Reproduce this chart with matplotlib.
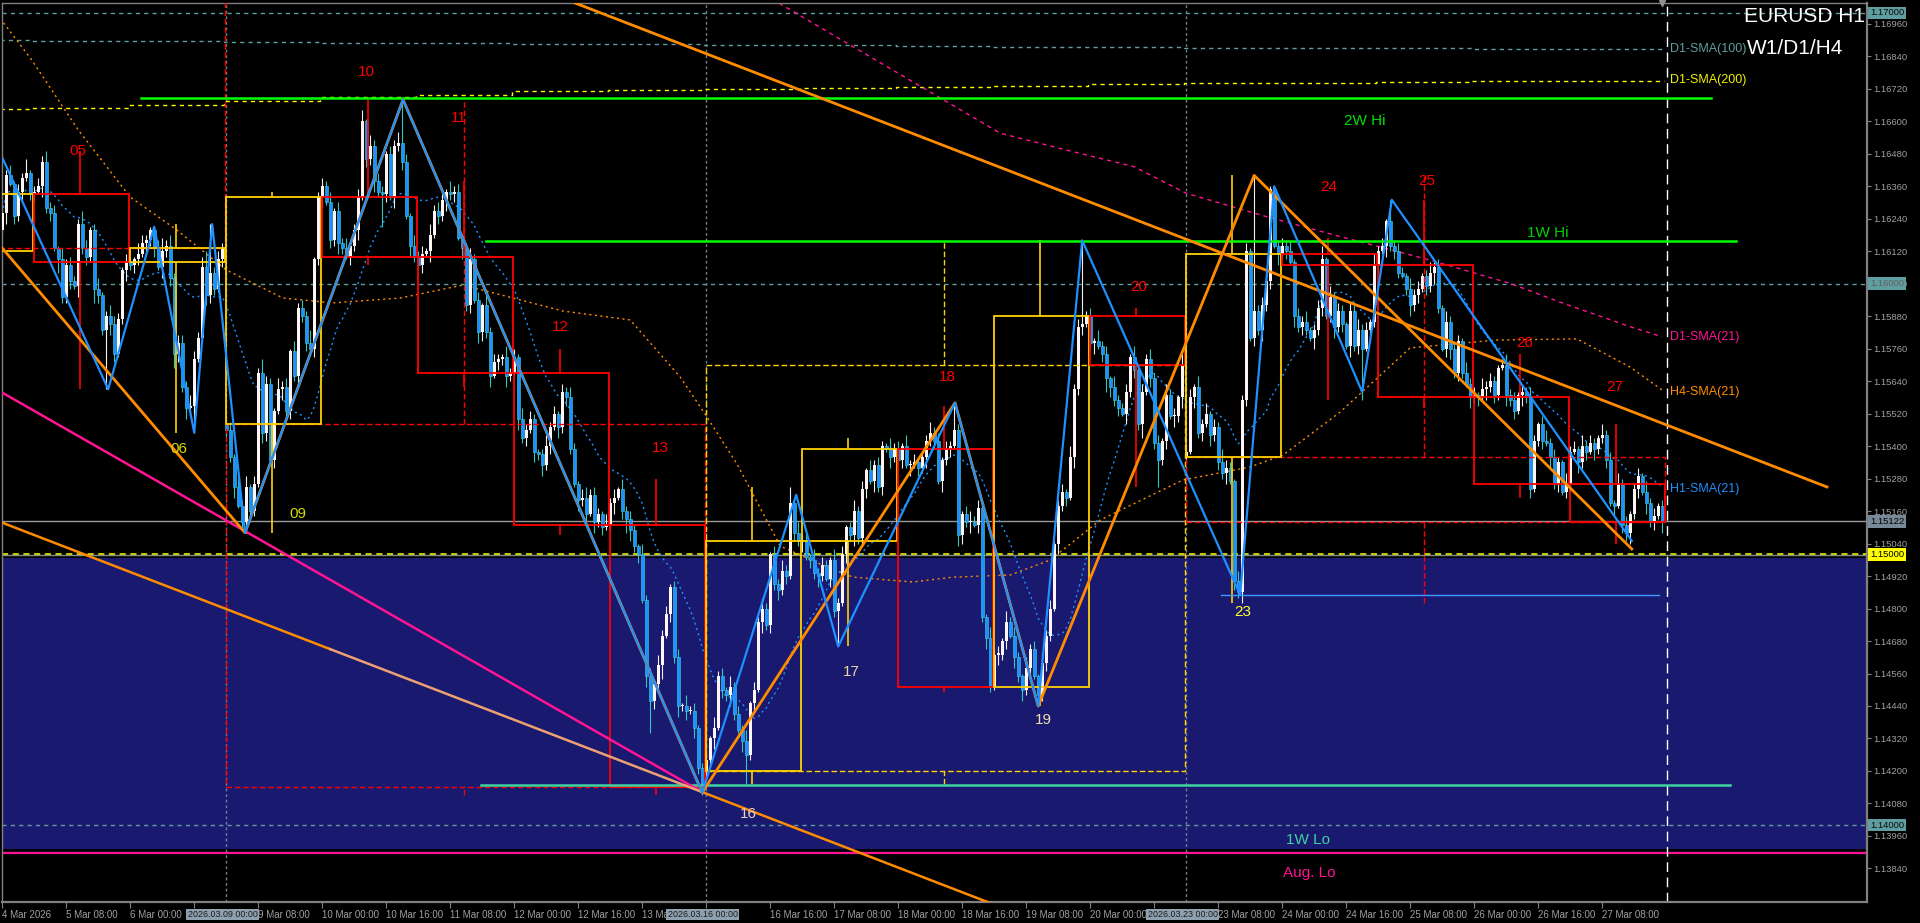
import numpy as np
import matplotlib
matplotlib.use("Agg")
import matplotlib.pyplot as plt
from matplotlib.patches import Rectangle
from matplotlib.transforms import blended_transform_factory

plt.rcParams['font.family'] = ['Liberation Sans', 'DejaVu Sans']

# ---------------- data ----------------
trading_days = [4, 5, 6, 9, 10, 11, 12, 13, 16, 17, 18, 19, 20, 23, 24, 25, 26, 27]
first_hour = 16  # chart starts 4 Mar 16:00 (H1 bars)

close_w1 = [1.1626, 1.1640, 1.1637, 1.1625, 1.1634, 1.1639, 1.1641, 1.1633,
            1.1634, 1.1636, 1.1645, 1.1628, 1.1626, 1.1613, 1.1609, 1.1595,
            1.1607, 1.1601, 1.1599, 1.1622, 1.1613, 1.1610, 1.1620, 1.1598,
            1.1596, 1.1583, 1.1588, 1.1585, 1.1574, 1.1587, 1.1605, 1.1608,
            1.1607, 1.1609, 1.1611, 1.1615, 1.1616, 1.1620, 1.1613, 1.1606,
            1.1612, 1.1614, 1.1602, 1.1574, 1.1578, 1.1562, 1.1554, 1.1555,
            1.1572, 1.1580, 1.1606, 1.1596, 1.1604, 1.1598, 1.1609, 1.1613]
close_w2 = [1.1546, 1.1536, 1.1525, 1.1518, 1.1512, 1.1525, 1.1516, 1.1526,
            1.1567, 1.1545, 1.1563, 1.1535, 1.1553, 1.1561, 1.1562, 1.1553,
            1.1575, 1.1566, 1.1591, 1.1588, 1.1578, 1.1576, 1.1609, 1.1632,
            1.1636, 1.1630, 1.1616, 1.1627, 1.1615, 1.1613, 1.1610, 1.1614,
            1.1620, 1.1632, 1.1660, 1.1646, 1.1651, 1.1638, 1.1634, 1.1633,
            1.1648, 1.1632, 1.1651, 1.1652, 1.1645, 1.1625, 1.1614, 1.1610,
            1.1607, 1.1611, 1.1612, 1.1618, 1.1627, 1.1625, 1.1631, 1.1634,
            1.1633, 1.1634, 1.1617, 1.1613, 1.1592, 1.1609, 1.1594, 1.1582,
            1.1592, 1.1582, 1.1566, 1.1571, 1.1572, 1.1573, 1.1566, 1.1567,
            1.1573, 1.1550, 1.1543, 1.1546, 1.1550, 1.1538, 1.1537, 1.1533,
            1.1540, 1.1547, 1.1552, 1.1547, 1.1560, 1.1558, 1.1539, 1.1526,
            1.1520, 1.1521, 1.1515, 1.1522, 1.1512, 1.1515, 1.1510, 1.1511,
            1.1519, 1.1521, 1.1524, 1.1516, 1.1513, 1.1509, 1.1503, 1.1500,
            1.1483, 1.1455, 1.1446, 1.1452, 1.1459, 1.1470, 1.1478, 1.1488,
            1.1462, 1.1444, 1.1444, 1.1442, 1.1442, 1.1436, 1.1421, 1.1414]
close_w3 = [1.1424, 1.1432, 1.1436, 1.1455, 1.1450, 1.1448, 1.1451, 1.1441,
            1.1435, 1.1431, 1.1426, 1.1445, 1.1450, 1.1475, 1.1480, 1.1474,
            1.1500, 1.1489, 1.1487, 1.1494, 1.1492, 1.1519, 1.1508, 1.1505,
            1.1505, 1.1499, 1.1498, 1.1493, 1.1492, 1.1496, 1.1491, 1.1498,
            1.1479, 1.1482, 1.1500, 1.1510, 1.1507, 1.1516, 1.1506, 1.1524,
            1.1531, 1.1527, 1.1533, 1.1525, 1.1540, 1.1539, 1.1536, 1.1539,
            1.1535, 1.1540, 1.1533, 1.1533, 1.1534, 1.1532, 1.1536, 1.1542,
            1.1545, 1.1542, 1.1527, 1.1535, 1.1539, 1.1540, 1.1546, 1.1507,
            1.1515, 1.1512, 1.1512, 1.1511, 1.1517, 1.1477, 1.1469, 1.1451,
            1.1463, 1.1463, 1.1468, 1.1475, 1.1470, 1.1462, 1.1455, 1.1450,
            1.1458, 1.1465, 1.1455, 1.1448, 1.1460, 1.1470, 1.1480, 1.1504,
            1.1518, 1.1523, 1.1521, 1.1536, 1.1561, 1.1584, 1.1585, 1.1588,
            1.1578, 1.1579, 1.1577, 1.1574, 1.1565, 1.1562, 1.1557, 1.1554,
            1.1552, 1.1560, 1.1573, 1.1568, 1.1548, 1.1560, 1.1572, 1.1565,
            1.1541, 1.1535, 1.1542, 1.1559, 1.1551, 1.1551, 1.1558, 1.1570]
close_w4 = [1.1538, 1.1558, 1.1562, 1.1545, 1.1548, 1.1552, 1.1544, 1.1547,
            1.1534, 1.1530, 1.1532, 1.1527, 1.1490, 1.1486, 1.1557, 1.1612,
            1.1580, 1.1590, 1.1583, 1.1592, 1.1601, 1.1635, 1.1614, 1.1611,
            1.1614, 1.1612, 1.1608, 1.1588, 1.1584, 1.1586, 1.1583, 1.1580,
            1.1583, 1.1591, 1.1609, 1.1588, 1.1595, 1.1584, 1.1590, 1.1585,
            1.1577, 1.1590, 1.1577, 1.1583, 1.1576, 1.1583, 1.1586, 1.1607,
            1.1612, 1.1614, 1.1623, 1.1614, 1.1612, 1.1604, 1.1603, 1.1598,
            1.1592, 1.1596, 1.1598, 1.1603, 1.1599, 1.1604, 1.1606, 1.1591,
            1.1576, 1.1586, 1.1576, 1.1567, 1.1579, 1.1567, 1.1563, 1.1558,
            1.1559, 1.1558, 1.1561, 1.1562, 1.1564, 1.1559, 1.1569, 1.1570,
            1.1559, 1.1557, 1.1553, 1.1559, 1.1560, 1.1558, 1.1524, 1.1542,
            1.1548, 1.1542, 1.1541, 1.1536, 1.1526, 1.1534, 1.1523, 1.1526,
            1.1538, 1.1539, 1.1534, 1.1540, 1.1538, 1.1541, 1.1539, 1.1543,
            1.1544, 1.1535, 1.1519, 1.1518, 1.1526, 1.1511, 1.1508, 1.1515,
            1.1524, 1.1529, 1.1523, 1.1519, 1.1512, 1.1514, 1.1518, 1.1512]

# wick lengths in pips (estimated), one digit per bar
wick_hi_w1 = ("32413251" "23242314" "23225312" "41243213" "21432123" "52423324" "32463232")
wick_lo_w1 = ("24132412" "31423152" "23142325" "32143124" "23214231" "42353242" "31243213")
wick_hi_w2 = ("23142413" "25321423" "14232512" "32413241" "23514232" "13242314" "23142321" "42312423"
              "14232142" "31423212" "42313242" "13423214" "23142321" "42314231" "23142312")
wick_lo_w2 = ("32413242" "14323142" "32423132" "41324213" "24132423" "31423142" "23141324" "23142314"
              "32413242" "14231424" "23142321" "42314231" "24135423" "14232513" "24231424")
wick_hi_w3 = ("21423142" "32413242" "13242314" "23142321" "42312423" "14232142" "31423212" "42313242"
              "13423214" "23142321" "42314231" "23142312" "31423142" "23141324" "23142314")
wick_lo_w3 = ("32413242" "14323142" "32423132" "41324213" "24132423" "31423142" "23141324" "23142314"
              "32413242" "14231424" "23142321" "42314231" "24135423" "14232513" "24231424")
wick_hi_w4 = ("23142413" "25321423" "14232512" "32413241" "23514232" "13242314" "23142321" "42312423"
              "14232142" "31423212" "42313242" "13423214" "23142321" "42314231" "23142312")
wick_lo_w4 = ("21423142" "32413242" "13242314" "23142321" "42312423" "14232142" "31423212" "42313242"
              "13423214" "23142321" "42314231" "23142312" "31423142" "23141324" "23142314")

gap_opens = {0: 1.1620, 56: 1.1548, 176: 1.1420, 296: 1.1536}
high_marks = {10: 1.1647, 38: 1.1621, 52: 1.1622, 90: 1.1664, 100: 1.1668, 197: 1.1525,
              238: 1.1555, 270: 1.1616, 313: 1.1640, 317: 1.1636, 347: 1.1631}
low_marks = {26: 1.1561, 48: 1.1545, 61: 1.1508, 95: 1.1621, 162: 1.1434, 175: 1.1411,
             186: 1.1415, 209: 1.1466, 259: 1.1444, 289: 1.1525, 309: 1.1484, 340: 1.1557,
             406: 1.1505}
mar4_open = 1.1612
week1_open = 1.1720

# zigzags (bar index, price)
blue_zz_i = [0.2, 26.5, 38, 48, 52.5, 60.7, 100.2, 175, 198.5, 209, 238.2, 259, 270, 309.5, 318, 340, 347.4, 407.4]
blue_zz_p = [1.1646, 1.1561, 1.1621, 1.1545, 1.1622, 1.1508, 1.1668, 1.1412, 1.1522, 1.1466, 1.1556,
             1.1444, 1.1616, 1.1485, 1.1636, 1.1560, 1.1631, 1.1505]
orange_zz_i = [-0.5, 60.7, 100.2, 175, 238.2, 259, 313, 407.4]
orange_zz_p = [1.1614, 1.1508, 1.1668, 1.1412, 1.1556, 1.1444, 1.1640, 1.1502]

# trend lines (bar index, price)
trend_long_i = [143.2, 456.2]
trend_long_p = [1.17037, 1.15249]
trend_pink_i = [0.2, 175]
trend_pink_p = [1.15596, 1.14122]
trend_low_i = [0.2, 82, 175, 250]
trend_low_p = [1.15116, 1.14650, 1.14122, 1.13695]

# moving averages
h4_sma_i = [-0.5, 7.4, 19, 32, 43.7, 56, 70.2, 82.7, 99.5, 115.2, 140.2, 157, 169.5, 175.2, 183.7, 194.5,
            204.5, 212.7, 227.7, 237.7, 252, 262, 274.5, 295.2, 312, 320.2, 334.5, 352, 373.7, 393.7, 407, 415]
h4_sma_p = [1.1698, 1.16826, 1.16568, 1.16320, 1.16198, 1.16051, 1.15947, 1.15929, 1.15947, 1.15995,
            1.15899, 1.15866, 1.15655, 1.15530, 1.15334, 1.15031, 1.14964, 1.14916, 1.14898, 1.14916,
            1.14924, 1.14979, 1.15127, 1.15275, 1.15323, 1.15367, 1.15526, 1.15763, 1.15792, 1.15796,
            1.15692, 1.15607]
d1_sma21_i = [150, 195.5, 249.5, 266, 283, 296, 316, 334.5, 357, 377, 390, 407, 415]
d1_sma21_p = [1.1742, 1.17025, 1.16556, 1.16494, 1.16432, 1.16334, 1.16248, 1.16174, 1.16087,
              1.16001, 1.15929, 1.15841, 1.15804]
d1_sma200_day = [1.16645, 1.16650, 1.16660, 1.16675, 1.16688, 1.16698, 1.16710, 1.16715, 1.16720,
                 1.16724, 1.16728, 1.16732, 1.16736, 1.16740, 1.16743, 1.16746, 1.16748, 1.16750]
d1_sma100_day = [1.16900, 1.16898, 1.16896, 1.16893, 1.16890, 1.16888, 1.16886, 1.16884, 1.16882,
                 1.16880, 1.16878, 1.16876, 1.16874, 1.16872, 1.16870, 1.16869, 1.16868, 1.16867]

# horizontal levels
level_2w_hi = 1.16687
level_1w_hi = 1.16158
level_1w_lo = 1.14147
level_aug_lo = 1.13896
level_23_low = 1.1485
zone_top, zone_bottom = 1.14988, 1.13912
last_price = 1.15122

day_labels = [("05", 18.95, 1.16490, '#ff0000'), ("06", 44.2, 1.15389, '#d8d800'),
              ("09", 73.95, 1.15149, '#d8d800'), ("10", 90.95, 1.16782, '#ff0000'),
              ("11", 114.2, 1.16612, '#ff0000'), ("12", 139.45, 1.15840, '#ff0000'),
              ("13", 164.45, 1.15393, '#ff0000'), ("16", 186.45, 1.14041, '#e8d0c8'),
              ("17", 212.2, 1.14566, '#e8d8a0'), ("18", 236.2, 1.15655, '#ff0000'),
              ("19", 260.2, 1.14388, '#f0e0b0'), ("20", 284.2, 1.15988, '#ff0000'),
              ("23", 310.2, 1.14787, '#ffff30'), ("24", 331.7, 1.16357, '#ff0000'),
              ("25", 356.2, 1.16380, '#ff0000'), ("26", 380.7, 1.15781, '#ff0000'),
              ("27", 403.2, 1.15618, '#ff0000')]

# ---------------- build bars ----------------
times = []
for d in trading_days:
    for h in range(first_hour if d == trading_days[0] else 0, 24):
        times.append((d, h))
n = len(times)
closes = np.array(close_w1 + close_w2 + close_w3 + close_w4)
opens = np.empty(n)
opens[1:] = closes[:-1]
for k, v in gap_opens.items():
    opens[k] = v
whi = np.array([int(ch) for ch in wick_hi_w1 + wick_hi_w2 + wick_hi_w3 + wick_hi_w4]) * 0.0001
wlo = np.array([int(ch) for ch in wick_lo_w1 + wick_lo_w2 + wick_lo_w3 + wick_lo_w4]) * 0.0001
highs = np.maximum(opens, closes) + whi[:n]
lows = np.minimum(opens, closes) - wlo[:n]
for k, v in high_marks.items():
    highs[k] = max(v, opens[k], closes[k])
for k, v in low_marks.items():
    lows[k] = min(v, opens[k], closes[k])

# ---------------- figure ----------------
W, H = 1920, 923
fig = plt.figure(figsize=(W / 100, H / 100), dpi=100, facecolor='black')
ax = fig.add_axes([2 / W, 21 / H, 1865 / W, 899 / H], facecolor='black')
XMIN, XMAX = -0.05, 466.2
YMIN, YMAX = 1.137159, 1.170369
ax.set_xlim(XMIN, XMAX)
ax.set_ylim(YMIN, YMAX)
bt = blended_transform_factory(ax.transAxes, ax.transData)
bx = blended_transform_factory(ax.transData, ax.transAxes)

# zone
ax.add_patch(Rectangle((XMIN, zone_bottom), XMAX - XMIN, zone_top - zone_bottom,
                       facecolor='#191970', edgecolor='none', zorder=0.5))

# horizontal reference lines
ax.axhline(1.17, color='#5f9ea0', lw=1, dashes=(3, 3), zorder=1)
ax.axhline(1.16, color='#5f9ea0', lw=1, dashes=(3, 3), zorder=1)
ax.axhline(1.14, color='#5f9ea0', lw=1, dashes=(3, 3), zorder=1)
ax.axhline(1.14996, color='#7f8f8f', lw=1, zorder=1)
ax.axhline(1.15003, color='#ffff00', lw=1.1, dashes=(4, 3), zorder=1.1)
ax.axhline(last_price, color='#9a9a9a', lw=1, zorder=1)
ax.axhline(level_aug_lo, color='#ff1493', lw=1.6, zorder=1)

# period separators
for s in (56, 176, 296):
    ax.axvline(s - 0.05, color='#6f8090', lw=1, dashes=(2, 2), zorder=1)
ax.axvline(416.1, color='white', lw=1, dashes=(7, 4), zorder=1)

# D1 SMAs as daily steps
day_idx = {}
for i, (d, h) in enumerate(times):
    day_idx.setdefault(d, []).append(i)
step_x, s200, s100 = [], [], []
for k, d in enumerate(trading_days):
    s, e = day_idx[d][0], day_idx[d][-1]
    step_x += [s - 0.5, e + 0.5]
    s200 += [d1_sma200_day[k]] * 2
    s100 += [d1_sma100_day[k]] * 2
ax.plot(step_x, s100, color='#5f9ea0', lw=1, dashes=(3, 3), zorder=1.5)
ax.plot(step_x, s200, color='#ffff00', lw=1, dashes=(3, 3), zorder=1.5)
ax.plot(d1_sma21_i, d1_sma21_p, color='#ff1493', lw=1, dashes=(3, 3), zorder=1.5)
ax.plot(h4_sma_i, h4_sma_p, color='#ff8c00', lw=1, dashes=(1.5, 2.5), zorder=1.5)

# H1 SMA(21) computed from closes
sma = np.array([closes[max(0, i - 20):i + 1].mean() for i in range(n)])
ax.plot(np.arange(n), sma, color='#1e90ff', lw=1, dashes=(1.5, 2.5), zorder=1.6)

# candles
x = np.arange(n)
up = closes >= opens
ax.vlines(x[up], lows[up], highs[up], color='#f0f0f0', lw=0.8, zorder=2)
ax.vlines(x[~up], lows[~up], highs[~up], color='#30c8c0', lw=0.8, zorder=2)
blo = np.minimum(opens, closes)
bh = np.maximum(np.abs(closes - opens), 0.00004)
ax.bar(x[up], bh[up], bottom=blo[up], width=0.7, color='#fff4f4', edgecolor='none', zorder=3)
ax.bar(x[~up], bh[~up], bottom=blo[~up], width=0.7, color='#1e90ff', edgecolor='#40d0e0',
       linewidth=0.4, zorder=3)

# level lines with labels
ax.plot([34.7, 427.2], [level_2w_hi] * 2, color='#00ff00', lw=1.8, zorder=6)
ax.plot([120.95, 433.45], [level_1w_hi] * 2, color='#00ff00', lw=1.8, zorder=6)
ax.plot([119.7, 432.0], [level_1w_lo] * 2, color='#3ed3a0', lw=1.8, zorder=6)
ax.plot([304.7, 414.2], [level_23_low] * 2, color='#3d9bff', lw=1, zorder=6)
ax.text(335.45, 1.16600, "2W Hi", color='#00e000', fontsize=11, va='center', ha='left', zorder=9)
ax.text(381.2, 1.16187, "1W Hi", color='#00d000', fontsize=11, va='center', ha='left', zorder=9)
ax.text(321.0, 1.13944, "1W Lo", color='#3ed3a0', fontsize=11, va='center', ha='left', zorder=9)
ax.text(320.2, 1.13822, "Aug. Lo", color='#ff1493', fontsize=11, va='center', ha='left', zorder=9)

# weekly candles (dashed)
weeks = [(-56, 55), (56, 175), (176, 295), (296, 415)]
for wk, (s, e) in enumerate(weeks):
    a, b = max(s, 0), e
    o = week1_open if wk == 0 else opens[s]
    c = closes[e]
    hh = max(highs[a:b + 1].max(), o) if wk == 0 else highs[a:b + 1].max()
    ll = lows[a:b + 1].min()
    col = '#ff0000' if c < o else '#ffd200'
    ax.add_patch(Rectangle((s - 0.05, min(o, c)), e - s + 0.8, abs(c - o), fill=False, edgecolor=col,
                           lw=1, linestyle=(0, (4, 2)), zorder=4))
    xc = (s + e) / 2
    ax.vlines(xc, max(o, c), hh, color=col, lw=1, linestyles=(0, (4, 2)), zorder=4)
    ax.vlines(xc, ll, min(o, c), color=col, lw=1, linestyles=(0, (4, 2)), zorder=4)

# daily candles (boxes + wicks)
for d in trading_days:
    idx = day_idx[d]
    s, e = idx[0], idx[-1]
    o = mar4_open if d == trading_days[0] else opens[s]
    sb = s - first_hour if d == trading_days[0] else s
    c = closes[e]
    hh, ll = highs[s:e + 1].max(), lows[s:e + 1].min()
    col = '#ff0000' if c < o else '#ffd200'
    ax.add_patch(Rectangle((sb - 0.05, min(o, c)), e - sb + 0.8, abs(c - o), fill=False,
                           edgecolor=col, lw=1.3, zorder=5))
    xc = (sb + e) / 2
    ax.vlines(xc, max(o, c), hh, color=col, lw=1.2, zorder=5)
    ax.vlines(xc, ll, min(o, c), color=col, lw=1.2, zorder=5)

for t, xi, p, col in day_labels:
    ax.text(xi, p, t, color=col, fontsize=11, ha='center', va='center', zorder=9)

# trend lines and zigzags
ax.plot(trend_pink_i, trend_pink_p, color='#ff1493', lw=1.8, zorder=6)
ax.plot(trend_low_i[:2], trend_low_p[:2], color='#ff8c00', lw=1.8, zorder=6)
ax.plot(trend_low_i[1:3], trend_low_p[1:3], color='#eea070', lw=1.8, zorder=6)
ax.plot(trend_low_i[2:], trend_low_p[2:], color='#ff8c00', lw=1.8, zorder=6)
ax.plot(trend_long_i, trend_long_p, color='#ff8c00', lw=2.0, zorder=6)
ax.plot(orange_zz_i, orange_zz_p, color='#ff8c00', lw=2.0, zorder=6.5)
ax.plot(blue_zz_i, blue_zz_p, color='#1e90ff', lw=1.6, zorder=7)

# right-side legend labels
leg = [("D1-SMA(100)", 1.16867, '#5f9ea0'), ("D1-SMA(200)", 1.16752, '#f0f000'),
       ("D1-SMA(21)", 1.15803, '#ff1493'), ("H4-SMA(21)", 1.15600, '#ff8c00'),
       ("H1-SMA(21)", 1.15242, '#1e90ff')]
for t, p, col in leg:
    ax.text(416.95, p, t, color=col, fontsize=9, ha='left', va='center', zorder=9)

# ---------------- axes styling ----------------
for sp in ax.spines.values():
    sp.set_color('#808080')
    sp.set_linewidth(1)
ax.spines['right'].set_linewidth(1.6)
ax.spines['bottom'].set_linewidth(1.6)

yt = [round(1.13840 + 0.0012 * k, 5) for k in range(27)]
ax.yaxis.tick_right()
ax.set_yticks(yt)
ax.set_yticklabels([f"{v:.5f}" for v in yt])
ax.tick_params(axis='y', colors='#808080', labelcolor='#a0a0a0', labelsize=6.8, length=3, pad=1.5)

separators = {56: "2026.03.09 00:00", 176: "2026.03.16 00:00", 296: "2026.03.23 00:00"}
xt = list(range(0, n, 16))
xl = []
for i in xt:
    d, h = times[i]
    # labels that sit right under a separator tag are hidden in the reference
    hidden = any(0 <= s - i <= 8 for s in separators)
    if hidden:
        xl.append("")
    else:
        xl.append(f"{d} Mar 2026" if i == 0 else f"{d} Mar {h:02d}:00")
ax.set_xticks(xt)
ax.set_xticklabels(xl)
for lab in ax.get_xticklabels():
    lab.set_ha('left')
ax.tick_params(axis='x', colors='#808080', labelcolor='#a0a0a0', labelsize=7, length=4, pad=2)

# highlighted separator labels on time axis
for s, t in separators.items():
    ax.text(s - 0.9, -0.014, t, transform=bx, ha='center', va='center', fontsize=6.4, color='#1a1a1a',
            bbox=dict(boxstyle='square,pad=0.15', fc='#8e9fb0', ec='none'), clip_on=False, zorder=20)

# price tags on the price axis
tags = [(1.17000, '#5f9ea0', '#0a0a0a'), (1.16000, '#5f9ea0', '#606060'),
        (last_price, '#778899', '#000000'), (1.15000, '#ffff00', '#000000'),
        (1.14000, '#5f9ea0', '#0a0a0a')]
for p, bg, tc in tags:
    ax.text(1.0 + 3 / 1865, p, f"{p:.5f}", transform=bt, ha='left', va='center', fontsize=6.8,
            color=tc, bbox=dict(boxstyle='square,pad=0.2', fc=bg, ec='none'), clip_on=False, zorder=20)

# chart-shift marker
ax.plot([414.9], [1.0], transform=bx, marker='v', color='#909090', markersize=5, clip_on=False, zorder=20)

# title
fig.text(1865 / W, 1 - 16 / H, "EURUSD H1", color='white', fontsize=15, ha='right', va='center')
fig.text(1747 / W, 1 - 48 / H, "W1/D1/H4", color='white', fontsize=15, ha='left', va='center')

fig.savefig("out.png", dpi=100, facecolor='black')
